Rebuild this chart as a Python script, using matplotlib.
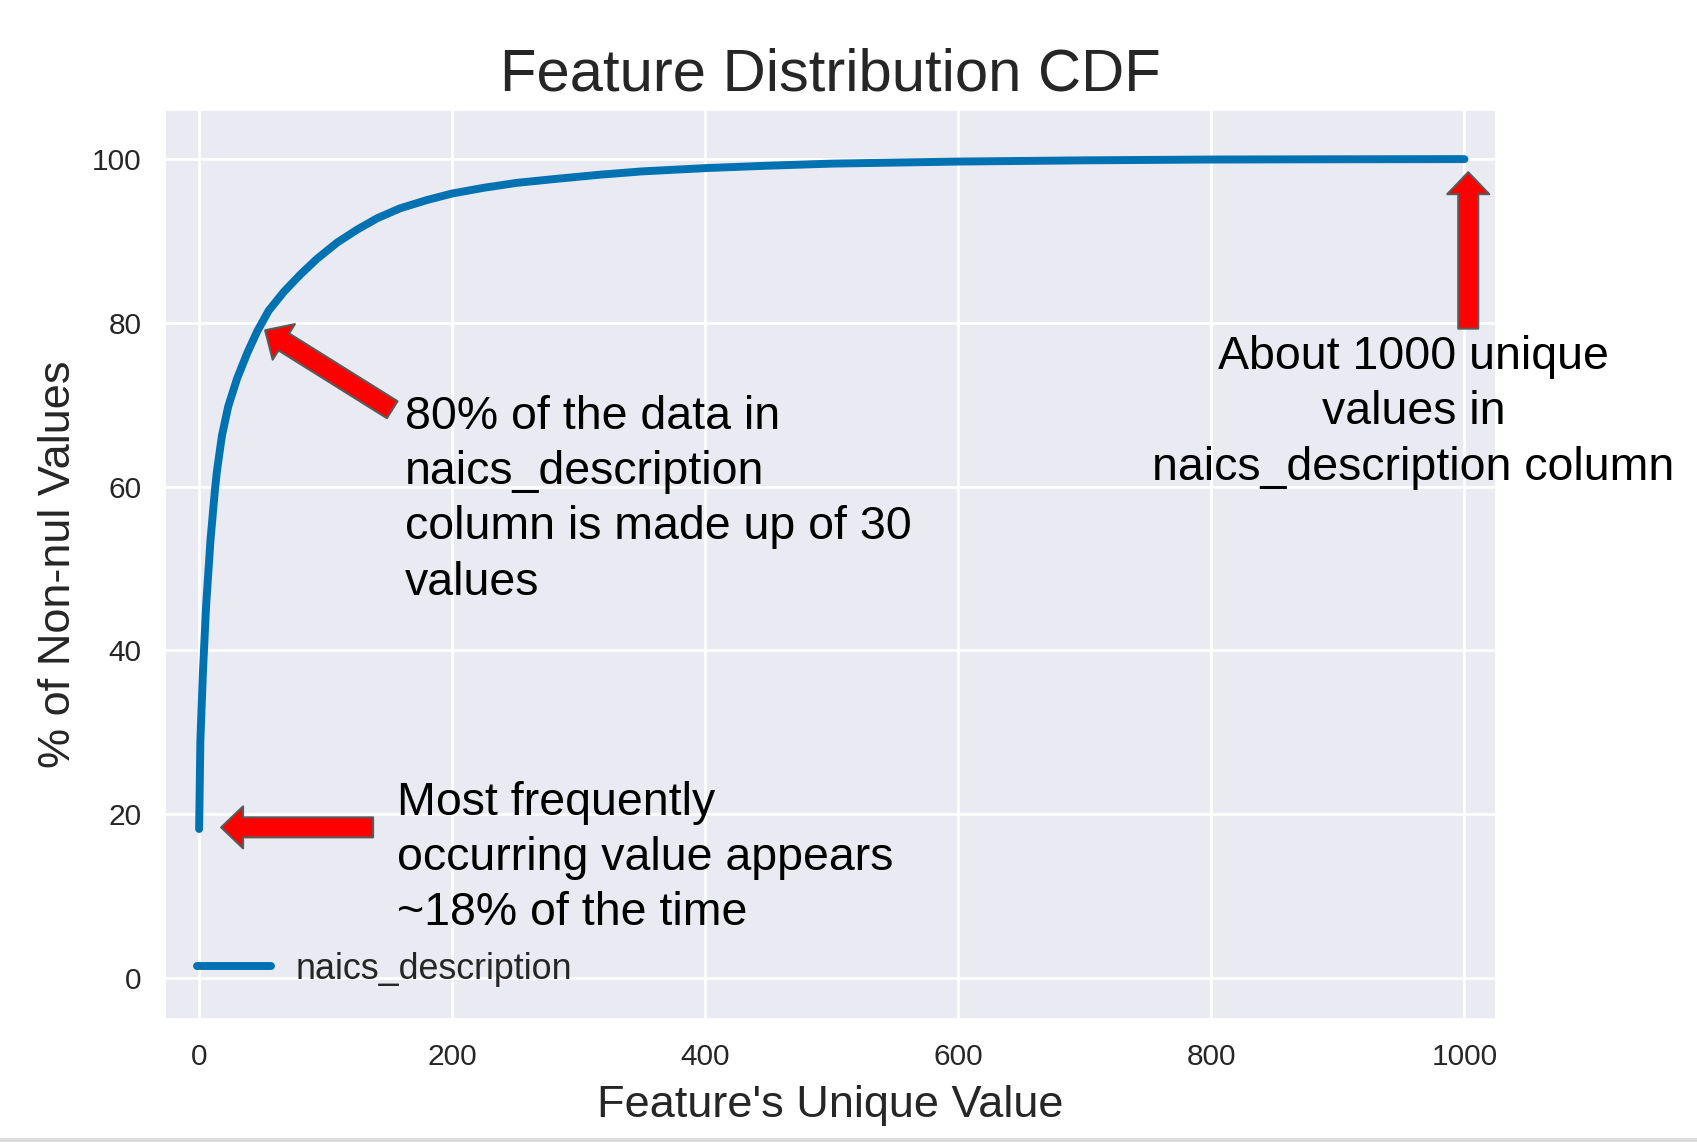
import matplotlib
matplotlib.use("Agg")
import matplotlib.pyplot as plt
import seaborn as sns
from matplotlib.patches import Rectangle

# === Values ===
unique_value = [0, 1, 3, 5.5, 9, 12.5, 14, 18, 23, 30, 38, 46, 55, 67, 80, 93, 109,
                125, 141, 159, 180, 200, 225, 251, 283, 317, 350, 400, 450, 500,
                600, 700, 800, 900, 1000]
pct_non_null = [18.2, 29.0, 37.3, 45.4, 53.5, 59.6, 61.8, 66.2, 69.8, 73.2, 76.3,
                79.0, 81.5, 83.8, 85.9, 87.8, 89.8, 91.4, 92.8, 94.0, 95.0, 95.8,
                96.5, 97.1, 97.6, 98.1, 98.5, 98.9, 99.2, 99.45, 99.7, 99.85,
                99.95, 99.98, 100.0]
series_name = "naics_description"

x_ticks = [0, 200, 400, 600, 800, 1000]
y_ticks = [0, 20, 40, 60, 80, 100]

# === Annotation text and arrow anchors (data coords) ===
note_top = "80% of the data in\nnaics_description\ncolumn is made up of 30\nvalues"
note_bottom = "Most frequently\noccurring value appears\n~18% of the time"
note_right = "About 1000 unique\nvalues in\nnaics_description column"

arrow_top = ((52.2, 79.1), (152.6, 69.4))      # (tip, tail)
arrow_bottom = ((17.4, 18.4), (137.5, 18.4))
arrow_right = ((1003, 98.4), (1003, 79.3))

# === Style ===
sns.set_theme(style="darkgrid")
plt.rcParams['font.family'] = ['Liberation Sans', 'DejaVu Sans']
plt.rcParams['text.color'] = '#262626'

fig = plt.figure(figsize=(16.97, 11.42), dpi=100)
ax = fig.add_axes([0.0972, 0.1077, 0.7844, 0.7960])

ax.plot(unique_value, pct_non_null, color='#0072B2', linewidth=5.7,
        solid_capstyle='round', solid_joinstyle='round', label=series_name)

ax.set_xlim(-27, 1025)
ax.set_ylim(-5, 106)
ax.set_xticks(x_ticks)
ax.set_yticks(y_ticks)
ax.grid(True, color='white', linewidth=2)
ax.tick_params(axis='both', labelsize=21.5, pad=17, colors='#262626', length=0)

ax.set_title("Feature Distribution CDF", fontsize=43, color='#262626', pad=14)
ax.set_xlabel("Feature's Unique Value", fontsize=32.5, color='#262626', labelpad=10)
ax.set_ylabel("% of Non-nul Values", fontsize=32.5, color='#262626', labelpad=9)

leg = ax.legend(loc='lower left', fontsize=25.8, frameon=False,
                handlelength=2.05, handletextpad=0.71)

# === Block arrows ===
def block_arrow(tip, tail):
    ax.annotate('', xy=tip, xytext=tail,
                arrowprops=dict(arrowstyle='simple,head_length=0.79,head_width=1.51,tail_width=0.72',
                                mutation_scale=20, fc='#FF0000', ec='#5a5a5a', lw=1.5,
                                shrinkA=0, shrinkB=0))

block_arrow(*arrow_top)
block_arrow(*arrow_bottom)
block_arrow(*arrow_right)

ax.text(162.8, 71.2, note_top, fontsize=33.5, color='black', ha='left', va='top',
        linespacing=1.33)
ax.text(156.5, 24.1, note_bottom, fontsize=33.5, color='black', ha='left', va='top',
        linespacing=1.33)
ax.text(959.7, 78.5, note_right, fontsize=33.5, color='black', ha='center', va='top',
        multialignment='center', linespacing=1.33, clip_on=False)

# thin grey border at the bottom of the original screenshot
fig.patches.append(Rectangle((0, 0), 1, 4 / 1142, transform=fig.transFigure,
                             facecolor='#dcdcdc', edgecolor='none'))

plt.savefig("out.png", dpi=100)
